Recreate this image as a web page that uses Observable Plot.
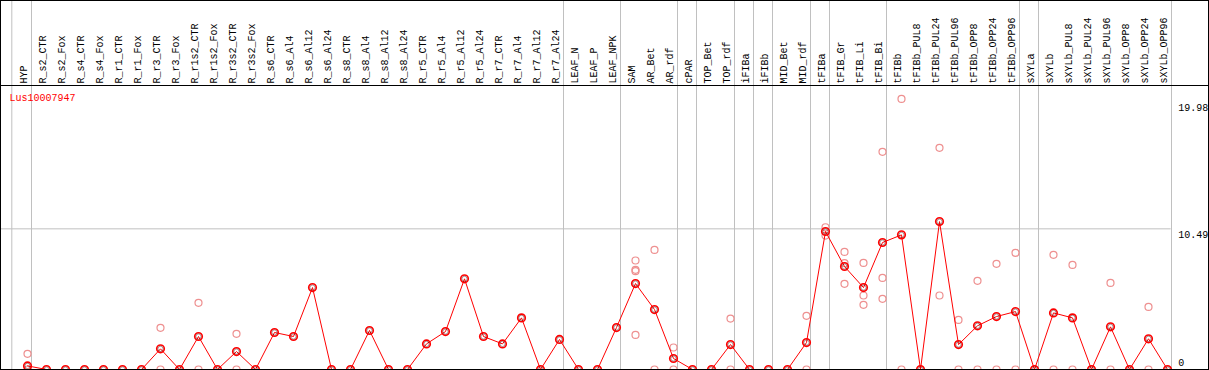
<!DOCTYPE html>
<html>
<head>
<meta charset="utf-8">
<script src="https://cdn.jsdelivr.net/npm/d3@7"></script>
<script src="https://cdn.jsdelivr.net/npm/@observablehq/plot@0.6"></script>
<style>
  html, body { margin: 0; padding: 0; background: white; }
  #wrap { position: relative; width: 1209px; height: 370px; overflow: hidden; }
  #box { position: absolute; left: 0; top: 0; width: 1209px; height: 370px; box-sizing: border-box; border: 1px solid #000; pointer-events: none; }
</style>
</head>
<body>
<div id="wrap"><div id="box"></div></div>
<script>
const geneId = "Lus10007947";

const names = [
  "HYP",
  "R_s2_CTR","R_s2_Fox","R_s4_CTR","R_s4_Fox","R_r1_CTR","R_r1_Fox","R_r3_CTR","R_r3_Fox",
  "R_r1s2_CTR","R_r1s2_Fox","R_r3s2_CTR","R_r3s2_Fox",
  "R_s6_CTR","R_s6_Al4","R_s6_Al12","R_s6_Al24","R_s8_CTR","R_s8_Al4","R_s8_Al12","R_s8_Al24",
  "R_r5_CTR","R_r5_Al4","R_r5_Al12","R_r5_Al24","R_r7_CTR","R_r7_Al4","R_r7_Al12","R_r7_Al24",
  "LEAF_N","LEAF_P","LEAF_NPK",
  "SAM","AR_Bet","AR_rdf",
  "cPAR",
  "TOP_Bet","TOP_rdf",
  "iFIBa",
  "iFIBb",
  "MID_Bet","MID_rdf",
  "tFIBa",
  "tFIB_Gr","tFIB_Li","tFIB_Bi",
  "tFIBb","tFIBb_PUL8","tFIBb_PUL24","tFIBb_PUL96","tFIBb_OPP8","tFIBb_OPP24","tFIBb_OPP96",
  "sXYLa",
  "sXYLb","sXYLb_PUL8","sXYLb_PUL24","sXYLb_PUL96","sXYLb_OPP8","sXYLb_OPP24","sXYLb_OPP96"
];

const means = [
  0.27,
  0, 0, 0, 0, 0, 0, 1.54, 0,
  2.46, 0, 1.34, 0,
  2.76, 2.46, 6.11, 0, 0, 2.91, 0, 0,
  1.91, 2.83, 6.76, 2.46, 1.91, 3.85, 0, 2.24,
  0, 0, 3.13,
  6.41, 4.47, 0.82,
  0,
  0, 1.86,
  0,
  0,
  0, 2.01,
  10.29,
  7.68, 6.11, 9.47,
  10.04, 0, 11.03, 1.86, 3.26, 3.95, 4.32,
  0,
  4.22, 3.85, 0, 3.18, 0, 2.29, 0
];

const replicates = [
  [1.17, 0],
  [], [], [], [], [], [], [3.11, 0], [],
  [4.97, 0], [], [2.66, 0], [],
  [], [], [], [], [], [], [], [],
  [], [], [], [], [], [], [], [],
  [], [], [],
  [8.13, 7.43, 7.33, 2.58], [8.92, 0], [1.64, 0],
  [],
  [], [3.80, 0],
  [],
  [],
  [], [4.00, 0],
  [10.61, 9.99],
  [8.77, 7.93, 6.39], [7.95, 5.52, 4.82], [16.23, 6.83, 5.27],
  [20.18, 0], [], [16.53, 5.52], [3.70, 0], [6.61, 0], [7.88, 0], [8.70, 0],
  [],
  [8.55, 0], [7.80, 0], [], [6.46, 0], [], [4.67, 0], []
];

// last column of each group (separator drawn just after it)
const groupEnds = ["HYP","R_r7_Al24","LEAF_NPK","AR_rdf","cPAR","TOP_rdf","iFIBa","iFIBb","MID_rdf","tFIBa","tFIB_Bi","tFIBb_OPP96","sXYLa","sXYLb_OPP96"];
const firstColumn = ["HYP"];

const yTicks = [10.49, 19.98];
const yZero = [0];
const yMax = 21.18;
const yAbove = 27.6;

const meanRows = names.map((n, i) => ({name: n, value: means[i]}));
const repRows = names.flatMap((n, i) => replicates[i].map(v => ({name: n, value: v})));

const gray = "#c0c0c0";
const mono = "'Liberation Mono', 'DejaVu Sans Mono', monospace";

const chart = Plot.plot({
  width: 1209,
  height: 370,
  marginTop: 85,
  marginBottom: 1,
  marginLeft: 1,
  marginRight: 38.3,
  style: {fontFamily: mono, fontSize: "10px", background: "transparent", color: "black"},
  x: {type: "point", domain: names, range: [26.7, 1166.7], padding: 0, axis: null, label: null},
  y: {domain: [0, yMax], axis: null, label: null},
  marks: [
    Plot.ruleX(groupEnds, {x: d => d, y1: 0, y2: yAbove, dx: 4, stroke: gray, strokeWidth: 1}),
    Plot.ruleX(firstColumn, {x: d => d, y1: 0, y2: yAbove, dx: -15.7, stroke: gray, strokeWidth: 1}),
    Plot.ruleY([10.49], {stroke: gray, strokeWidth: 1, insetLeft: -1}),
    Plot.ruleY([yMax], {stroke: "black", strokeWidth: 1, insetLeft: -1, insetRight: -39}),
    Plot.ruleY([0], {stroke: "black", strokeWidth: 1, insetLeft: -1}),
    Plot.axisX({anchor: "top", label: null, tickSize: 0, tickPadding: 2, rotate: -90, textAnchor: "start", fontSize: 10, fill: "black", dx: -1}),
    Plot.axisY(yTicks, {anchor: "right", label: null, tickSize: 0, tickPadding: 7, dy: 6, tickFormat: d => d.toFixed(2), fontSize: 10, fill: "black"}),
    Plot.axisY(yZero, {anchor: "right", label: null, tickSize: 0, tickPadding: 7, dy: -7, tickFormat: d => String(d), fontSize: 10, fill: "black"}),
    Plot.text([geneId], {frameAnchor: "top-left", dx: 8, dy: 8, fill: "red", fontSize: 10, textAnchor: "start", lineAnchor: "top"}),
    Plot.dot(repRows, {x: "name", y: "value", r: 3.5, stroke: "#ee9090", strokeWidth: 1.2, fill: "none"}),
    Plot.line(meanRows, {x: "name", y: "value", stroke: "red", strokeWidth: 1}),
    Plot.dot(meanRows, {x: "name", y: "value", r: 3.8, stroke: "red", strokeWidth: 1.6, fill: "none"}),
    Plot.dot(meanRows, {x: "name", y: "value", r: 2.6, stroke: "#300", strokeWidth: 0.7, strokeOpacity: 0.6, fill: "none"})
  ]
});
chart.style.position = "absolute";
chart.style.left = "0";
chart.style.top = "0";
chart.style.overflow = "visible";
document.getElementById("wrap").insertBefore(chart, document.getElementById("box"));
</script>
</body>
</html>
